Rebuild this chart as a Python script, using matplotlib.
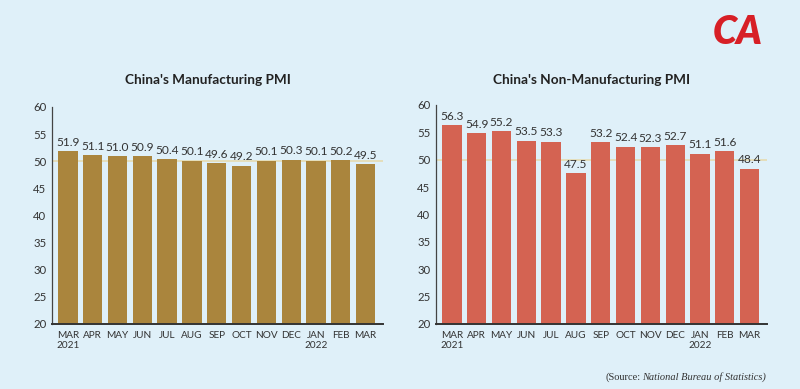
import matplotlib
matplotlib.use('Agg')
import matplotlib.pyplot as plt

months = ['MAR\n2021', 'APR', 'MAY', 'JUN', 'JUL', 'AUG', 'SEP', 'OCT',
          'NOV', 'DEC', 'JAN\n2022', 'FEB', 'MAR']
manufacturing = [51.9, 51.1, 51.0, 50.9, 50.4, 50.1, 49.6, 49.2,
                 50.1, 50.3, 50.1, 50.2, 49.5]
non_manufacturing = [56.3, 54.9, 55.2, 53.5, 53.3, 47.5, 53.2, 52.4,
                     52.3, 52.7, 51.1, 51.6, 48.4]
y_ticks = [20, 25, 30, 35, 40, 45, 50, 55, 60]

BG = '#dff0f9'
W, H = 800, 389

plt.rcParams['font.family'] = ['Lato', 'DejaVu Sans']


def DrawPanel(fig, rect, values, color, title, title_x):
    ax = fig.add_axes(rect)
    ax.set_facecolor(BG)
    x = list(range(len(values)))
    ax.axhline(50, color='#e6dbb0', lw=1.2, zorder=1)
    ax.bar(x, [v - 20 for v in values], bottom=20, width=0.78,
           color=color, zorder=2)
    for xi, v in zip(x, values):
        ax.text(xi, v + 0.6, '%.1f' % v, ha='center', va='bottom',
                fontsize=8.6, color='#333333')
    ax.set_ylim(20, 60)
    ax.set_xlim(-0.64, 12.7)
    ax.set_yticks(y_ticks)
    ax.set_xticks(x)
    ax.set_xticklabels(months)
    ax.tick_params(length=0, colors='#333333')
    ax.tick_params(axis='x', pad=5, labelsize=7.2)
    ax.tick_params(axis='y', pad=4, labelsize=8.2)
    for s in ['top', 'right']:
        ax.spines[s].set_visible(False)
    ax.spines['left'].set_color('#444444')
    ax.spines['left'].set_linewidth(0.9)
    ax.spines['bottom'].set_color('#333333')
    ax.spines['bottom'].set_linewidth(1.4)
    fig.text(title_x / W, 1 - 80 / H, title, ha='center', va='center',
             fontsize=9.8, fontweight='bold', color='#222222')
    return ax


fig = plt.figure(figsize=(8, 3.89), dpi=100)
fig.patch.set_facecolor(BG)

DrawPanel(fig, [52 / W, (H - 324) / H, 331 / W, 217 / H], manufacturing,
          '#aa853d', "China's Manufacturing PMI", 208)
DrawPanel(fig, [436 / W, (H - 324) / H, 331 / W, 219 / H], non_manufacturing,
          '#d46352', "China's Non-Manufacturing PMI", 592)

# source line: italic part right-aligned, plain part placed to its left
tail = fig.text(766 / W, 1 - 377 / H, 'National Bureau of Statistics)',
                ha='right', va='center', fontsize=7.5, color='#333333',
                family='Liberation Serif', style='italic')
renderer = fig.canvas.get_renderer()
bb = tail.get_window_extent(renderer)
fig.text((bb.x0 - 1) / W, 1 - 377 / H, '(Source:', ha='right', va='center',
         fontsize=7.5, color='#333333', family='Liberation Serif')

# logo
fig.text(738 / W, 1 - 33 / H, 'CA', ha='center', va='center', fontsize=28,
         fontweight='heavy', style='italic', color='#d71f26')

fig.savefig('out.png', dpi=100, facecolor=BG)
